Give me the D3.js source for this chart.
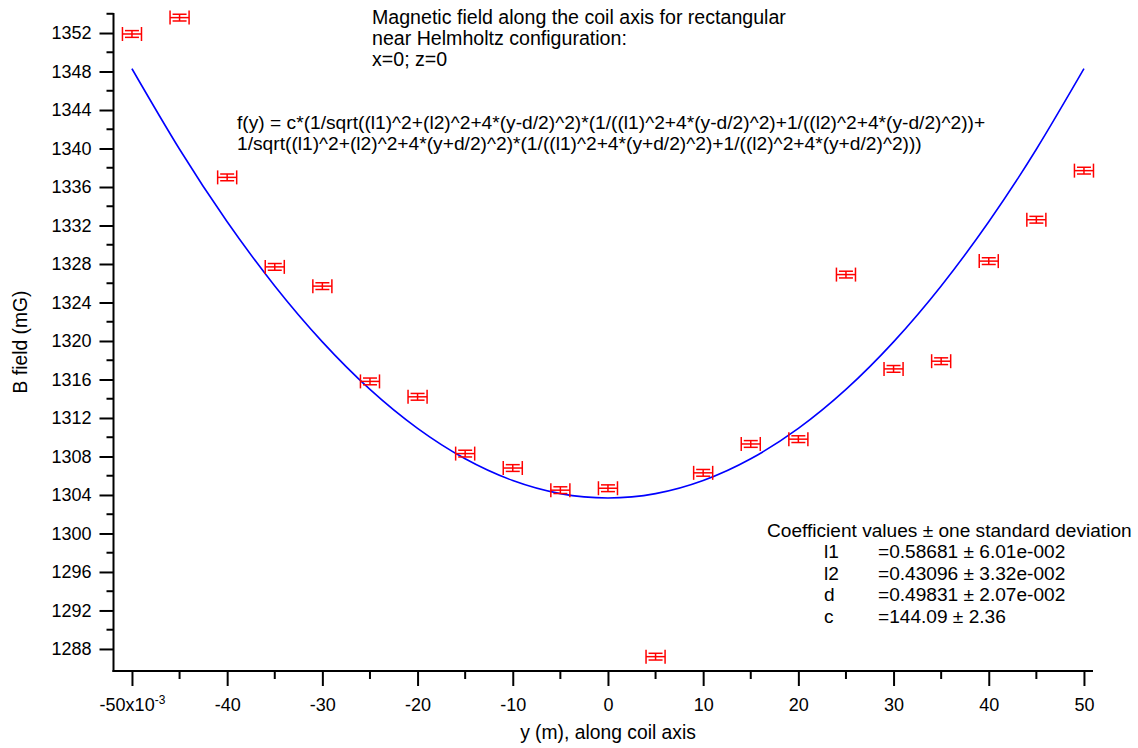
<!DOCTYPE html>
<html>
<head>
<meta charset="utf-8">
<script src="https://cdn.jsdelivr.net/npm/d3@7"></script>
<style>
  html, body { margin: 0; padding: 0; background: #fff; }
  svg text { font-family: "Liberation Sans", Arial, sans-serif; fill: #000; }
</style>
</head>
<body>
<svg id="chart" width="1138" height="748"></svg>
<script>
// ---- data ----
const positions = [-0.050, -0.045, -0.040, -0.035, -0.030, -0.025, -0.020, -0.015, -0.010, -0.005, 0.000,
                   0.005, 0.010, 0.015, 0.020, 0.025, 0.030, 0.035, 0.040, 0.045, 0.050];
const bField = [1351.9, 1353.6, 1337.0, 1327.7, 1325.7, 1315.8, 1314.2, 1308.3, 1306.8, 1304.5, 1304.7,
                1287.2, 1306.3, 1309.3, 1309.8, 1326.9, 1317.1, 1317.9, 1328.3, 1332.6, 1337.7];
const xError = 0.001;
const yError = 0.35;
// fit curve, read at each data position
const fitPositions = positions;
const fitValues = [1348.29, 1339.92, 1332.39, 1325.72, 1319.91, 1314.97, 1310.92, 1307.76, 1305.50, 1304.14, 1303.69,
                   1304.14, 1305.50, 1307.76, 1310.92, 1314.97, 1319.91, 1325.72, 1332.39, 1339.92, 1348.29];
const yTicks = [1288, 1292, 1296, 1300, 1304, 1308, 1312, 1316, 1320, 1324, 1328, 1332, 1336, 1340, 1344, 1348, 1352];
const yMinorTicks = [1290, 1294, 1298, 1302, 1306, 1310, 1314, 1318, 1322, 1326, 1330, 1334, 1338, 1342, 1346, 1350, 1354];
const xTicks = [-0.05, -0.04, -0.03, -0.02, -0.01, 0, 0.01, 0.02, 0.03, 0.04, 0.05];
const xTickLabels = ["-50x10", "-40", "-30", "-20", "-10", "0", "10", "20", "30", "40", "50"];
const xMinorTicks = [-0.045, -0.035, -0.025, -0.015, -0.005, 0.005, 0.015, 0.025, 0.035, 0.045];
const titleLines = ["Magnetic field along the coil axis for rectangular", "near Helmholtz configuration:", "x=0; z=0"];
const formulaLines = ["f(y) = c*(1/sqrt((l1)^2+(l2)^2+4*(y-d/2)^2)*(1/((l1)^2+4*(y-d/2)^2)+1/((l2)^2+4*(y-d/2)^2))+",
                      "1/sqrt((l1)^2+(l2)^2+4*(y+d/2)^2)*(1/((l1)^2+4*(y+d/2)^2)+1/((l2)^2+4*(y+d/2)^2)))"];
const coefHeader = "Coefficient values \u00b1 one standard deviation";
const coefNames = ["l1", "l2", "d", "c"];
const coefValues = ["=0.58681 \u00b1 6.01e-002", "=0.43096 \u00b1 3.32e-002", "=0.49831 \u00b1 2.07e-002", "=144.09 \u00b1 2.36"];

// ---- layout ----
const L = 113.5, R = 1093, T = 13, B = 671;
const svg = d3.select("#chart");
const x = d3.scaleLinear().domain([-0.05194, 0.05095]).range([L, R]);
const y = d3.scaleLinear().domain([1285.71, 1354.08]).range([B, T]);
const FS = 18;
const AFS = 19.3;

// axes lines
const axG = svg.append("g").attr("stroke", "#000").attr("stroke-width", 2).attr("fill", "none");
axG.append("line").attr("x1", L).attr("x2", L).attr("y1", T).attr("y2", B + 1);
axG.append("line").attr("x1", L - 1).attr("x2", R).attr("y1", B).attr("y2", B);

// y ticks
const yAxis = d3.axisLeft(y).tickValues(yTicks).tickSize(14).tickSizeOuter(0).tickPadding(8).tickFormat(d3.format("d"));
const yg = svg.append("g").attr("transform", `translate(${L},0)`).call(yAxis);
yg.select(".domain").remove();
yg.selectAll(".tick line").attr("stroke", "#000").attr("stroke-width", 2);
yg.selectAll(".tick text").attr("font-size", FS).attr("font-family", "Liberation Sans, Arial, sans-serif").attr("fill", "#000");
svg.append("g").selectAll("line").data(yMinorTicks).join("line")
  .attr("x1", L - 7).attr("x2", L).attr("y1", d => y(d)).attr("y2", d => y(d))
  .attr("stroke", "#000").attr("stroke-width", 2);

// x ticks
const xAxis = d3.axisBottom(x).tickValues(xTicks).tickSize(15).tickSizeOuter(0).tickPadding(12)
  .tickFormat((d, i) => xTickLabels[i]);
const xg = svg.append("g").attr("transform", `translate(0,${B})`).call(xAxis);
xg.select(".domain").remove();
xg.selectAll(".tick line").attr("stroke", "#000").attr("stroke-width", 2);
xg.selectAll(".tick text").attr("font-size", FS).attr("font-family", "Liberation Sans, Arial, sans-serif").attr("fill", "#000");
// exponent on first label
xg.selectAll(".tick text").filter((d, i) => i === 0).each(function () {
  const t = d3.select(this);
  t.text(null);
  t.append("tspan").text(xTickLabels[0]);
  t.append("tspan").attr("font-size", 12).attr("dy", "-0.6em").text("-3");
});
svg.append("g").selectAll("line").data(xMinorTicks).join("line")
  .attr("x1", d => x(d)).attr("x2", d => x(d)).attr("y1", B).attr("y2", B + 8)
  .attr("stroke", "#000").attr("stroke-width", 2);

// axis titles
svg.append("text").attr("transform", `translate(27,342) rotate(-90)`).attr("text-anchor", "middle")
  .attr("font-size", AFS).text("B field (mG)");
svg.append("text").attr("x", 608).attr("y", 739).attr("text-anchor", "middle")
  .attr("font-size", AFS).text("y (m), along coil axis");

// fit curve
const line = d3.line().x((d, i) => x(fitPositions[i])).y(d => y(d)).curve(d3.curveNatural);
svg.append("path").datum(fitValues).attr("d", line).attr("fill", "none")
  .attr("stroke", "#0000ff").attr("stroke-width", 1.6);

// data markers with error bars
const mk = svg.append("g").attr("stroke", "#ff0000").attr("stroke-width", 1.5).attr("fill", "none");
const pts = positions.map((p, i) => ({ p, v: bField[i] }));
const g = mk.selectAll("g").data(pts).join("g");
g.append("line").attr("x1", d => x(d.p - xError)).attr("x2", d => x(d.p + xError)).attr("y1", d => y(d.v)).attr("y2", d => y(d.v));
g.append("line").attr("x1", d => x(d.p - xError)).attr("x2", d => x(d.p - xError)).attr("y1", d => y(d.v) - 7).attr("y2", d => y(d.v) + 7);
g.append("line").attr("x1", d => x(d.p + xError)).attr("x2", d => x(d.p + xError)).attr("y1", d => y(d.v) - 7).attr("y2", d => y(d.v) + 7);
g.append("line").attr("x1", d => x(d.p)).attr("x2", d => x(d.p)).attr("y1", d => y(d.v + yError)).attr("y2", d => y(d.v - yError));
g.append("line").attr("x1", d => x(d.p) - 7).attr("x2", d => x(d.p) + 7).attr("y1", d => y(d.v + yError)).attr("y2", d => y(d.v + yError));
g.append("line").attr("x1", d => x(d.p) - 7).attr("x2", d => x(d.p) + 7).attr("y1", d => y(d.v - yError)).attr("y2", d => y(d.v - yError));

// annotations
const title = svg.append("text").attr("font-size", 19.6);
titleLines.forEach((s, i) => title.append("tspan").attr("x", 372).attr("y", 24 + i * 21).text(s));
const formula = svg.append("text").attr("font-size", 19.2);
formulaLines.forEach((s, i) => formula.append("tspan").attr("x", 237).attr("y", 129 + i * 21).text(s));
svg.append("text").attr("x", 767).attr("y", 537).attr("font-size", 19.1).text(coefHeader);
coefNames.forEach((n, i) => {
  svg.append("text").attr("x", 824).attr("y", 558 + i * 21.7).attr("font-size", 19.1).text(n);
  svg.append("text").attr("x", 878).attr("y", 558 + i * 21.7).attr("font-size", 19.1).text(coefValues[i]);
});
</script>
</body>
</html>
